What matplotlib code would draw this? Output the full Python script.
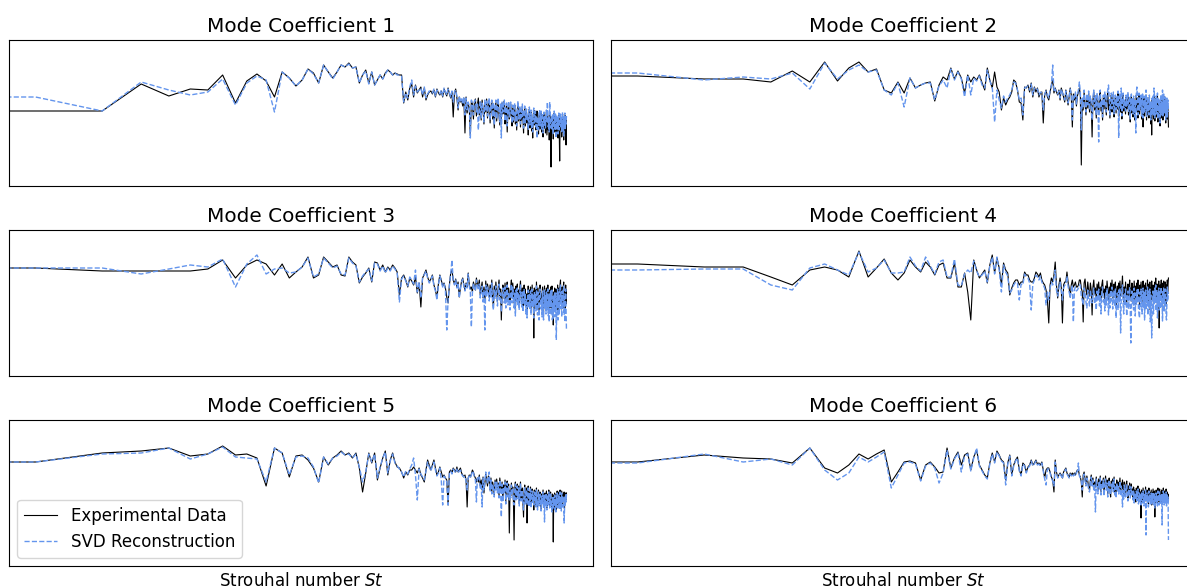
import numpy as np
import matplotlib
matplotlib.use("Agg")
import matplotlib.pyplot as plt

plt.rcParams["font.size"] = 12

# Frequency bins (DC + 250 bins), converted to Strouhal number
n_bins = 251
d_st = 0.004
strouhal = np.arange(n_bins) * d_st

titles = [f"Mode Coefficient {i}" for i in range(1, 7)]
xlabel = "Strouhal number $St$"
legend_labels = ["Experimental Data", "SVD Reconstruction"]

# Spectral amplitude of each mode coefficient [dB]
exp_1 = [
    -71, -71, -71, -44, -56, -49, -50, -35, -63, -41,
    -34, -41, -57, -32, -38, -46, -40, -29, -33, -43,
    -25, -32, -38, -32, -25, -27, -23, -28, -27, -43,
    -35, -30, -43, -32, -45, -40, -35, -39, -33, -30,
    -32, -35, -33, -34, -35, -35, -63, -52, -60, -48,
    -44, -57, -45, -53, -50, -47, -57, -48, -60, -55,
    -52, -51, -54, -50, -57, -49, -53, -55, -51, -57,
    -49, -53, -56, -48, -54, -58, -52, -77, -53, -49,
    -58, -70, -57, -62, -60, -66, -58, -93, -57, -73,
    -64, -68, -96, -61, -64, -79, -62, -59, -76, -65,
    -58, -75, -62, -80, -60, -70, -84, -63, -72, -59,
    -78, -66, -60, -83, -68, -61, -79, -64, -88, -70,
    -62, -81, -67, -60, -76, -85, -66, -80, -63, -74,
    -69, -61, -84, -72, -65, -92, -70, -63, -79, -73,
    -64, -77, -86, -67, -82, -71, -65, -84, -74, -90,
    -70, -63, -81, -75, -68, -87, -72, -80, -66, -78,
    -93, -74, -68, -86, -79, -71, -83, -76, -95, -73,
    -69, -88, -77, -72, -91, -80, -98, -75, -70, -85,
    -82, -73, -90, -78, -71, -87, -80, -94, -76, -72,
    -89, -79, -73, -92, -81, -75, -97, -83, -74, -88,
    -78, -93, -80, -72, -95, -84, -75, -90, -79, -100,
    -83, -74, -91, -127, -78, -93, -76, -85, -99, -79,
    -73, -92, -82, -76, -96, -84, -77, -91, -80, -98,
    -85, -75, -93, -121, -81, -76, -90, -79, -97, -83,
    -74, -92, -80, -100, -78, -88, -75, -94, -83, -105, -78,
]
svd_1 = [
    -57, -57, -71, -42, -50, -55, -52, -39, -65, -43,
    -36, -40, -72, -32, -38, -46, -40, -29, -34, -43,
    -25, -32, -39, -32, -25, -27, -24, -28, -27, -43,
    -35, -31, -44, -32, -45, -40, -35, -39, -34, -30,
    -32, -35, -33, -35, -35, -36, -62, -53, -58, -47,
    -40, -55, -46, -52, -50, -48, -55, -47, -58, -54,
    -51, -52, -53, -49, -56, -50, -52, -54, -50, -56,
    -48, -52, -55, -49, -53, -57, -51, -62, -52, -50,
    -56, -68, -56, -61, -58, -64, -57, -75, -58, -70,
    -62, -66, -98, -60, -63, -75, -61, -60, -72, -64,
    -90, -72, -61, -78, -63, -68, -82, -60, -70, -61,
    -76, -64, -58, -80, -66, -60, -77, -62, -85, -68,
    -60, -79, -65, -58, -74, -82, -64, -98, -62, -72,
    -67, -60, -81, -70, -63, -86, -68, -61, -77, -71,
    -62, -75, -83, -65, -80, -69, -63, -81, -72, -86,
    -68, -61, -79, -73, -66, -84, -70, -77, -64, -76,
    -88, -72, -66, -83, -77, -69, -80, -74, -90, -71,
    -67, -85, -75, -70, -88, -78, -92, -73, -68, -83,
    -80, -71, -87, -76, -98, -84, -78, -90, -74, -70,
    -86, -77, -71, -89, -79, -73, -93, -81, -72, -85,
    -76, -88, -78, -70, -82, -62, -73, -87, -77, -92,
    -62, -72, -88, -84, -76, -90, -74, -83, -95, -77,
    -71, -89, -80, -74, -98, -82, -75, -88, -78, -94,
    -83, -73, -90, -86, -79, -74, -87, -77, -93, -81,
    -72, -89, -78, -96, -76, -85, -73, -90, -81, -84, -76,
]
exp_2 = [
    -36, -36, -39, -39, -42, -31, -42, -22, -41, -28,
    -22, -32, -29, -50, -53, -42, -53, -38, -48, -45,
    -43, -42, -61, -45, -37, -40, -28, -39, -31, -38,
    -53, -35, -42, -37, -40, -35, -43, -50, -28, -40,
    -48, -32, -47, -52, -70, -58, -65, -60, -57, -52,
    -40, -42, -50, -62, -63, -80, -47, -48, -45, -52,
    -43, -57, -47, -52, -48, -57, -53, -52, -83, -55,
    -50, -57, -60, -52, -45, -40, -53, -48, -52, -55,
    -50, -60, -48, -52, -57, -62, -50, -58, -65, -57,
    -48, -55, -87, -54, -60, -53, -66, -56, -52, -48,
    -55, -125, -60, -70, -52, -64, -75, -56, -68, -53,
    -72, -58, -66, -97, -60, -52, -70, -57, -78, -55,
    -66, -74, -56, -52, -71, -62, -80, -57, -69, -54,
    -64, -75, -58, -52, -70, -60, -78, -63, -55, -72,
    -62, -54, -77, -66, -57, -73, -59, -69, -53, -76,
    -64, -56, -72, -60, -79, -65, -55, -71, -61, -68,
    -74, -57, -69, -63, -54, -75, -66, -58, -82, -64,
    -56, -73, -61, -77, -58, -68, -80, -62, -71, -55,
    -70, -58, -78, -64, -55, -74, -60, -69, -57, -79,
    -65, -56, -87, -68, -58, -76, -62, -71, -55, -80,
    -66, -59, -75, -62, -78, -57, -70, -64, -84, -63,
    -95, -60, -74, -58, -79, -67, -56, -81, -63, -72,
    -58, -77, -65, -55, -82, -68, -60, -75, -63, -86,
    -67, -57, -78, -64, -73, -58, -80, -66, -56, -76,
    -63, -74, -59, -83, -65, -77, -60, -79, -68, -72, -87,
]
svd_2 = [
    -33, -33, -40, -37, -39, -33, -49, -23, -39, -30,
    -25, -32, -30, -50, -55, -43, -67, -38, -48, -45,
    -43, -43, -60, -46, -40, -48, -29, -40, -32, -39,
    -57, -35, -55, -38, -41, -36, -45, -48, -30, -41,
    -47, -82, -50, -60, -68, -56, -62, -58, -55, -50,
    -42, -43, -50, -60, -58, -75, -48, -47, -46, -50,
    -44, -55, -48, -50, -49, -55, -52, -53, -70, -54,
    -51, -55, -58, -50, -46, -25, -52, -49, -53, -54,
    -51, -58, -49, -53, -56, -60, -51, -57, -63, -56,
    -49, -54, -80, -55, -58, -52, -64, -55, -50, -42,
    -52, -90, -58, -68, -50, -62, -72, -54, -65, -51,
    -70, -56, -63, -80, -58, -50, -67, -55, -75, -53,
    -63, -102, -54, -50, -68, -60, -77, -55, -66, -52,
    -61, -72, -56, -50, -45, -58, -75, -61, -53, -69,
    -60, -52, -74, -64, -55, -70, -57, -66, -51, -98,
    -62, -54, -69, -48, -76, -63, -53, -68, -59, -65,
    -71, -55, -66, -61, -52, -72, -64, -56, -79, -62,
    -54, -70, -59, -74, -56, -66, -77, -60, -93, -53,
    -47, -56, -75, -62, -53, -71, -58, -67, -55, -76,
    -63, -54, -78, -66, -56, -73, -60, -69, -50, -77,
    -64, -57, -72, -60, -75, -55, -68, -62, -80, -61,
    -76, -58, -71, -56, -76, -48, -54, -78, -61, -70,
    -56, -74, -63, -53, -79, -66, -58, -72, -61, -83,
    -65, -55, -75, -62, -70, -50, -77, -64, -54, -73,
    -61, -71, -57, -80, -63, -74, -58, -77, -66, -60, -72,
]
exp_3 = [
    -38, -38, -41, -41, -41, -41, -39, -30, -48, -35,
    -30, -34, -45, -34, -48, -42, -37, -27, -48, -45,
    -27, -32, -37, -35, -45, -46, -27, -32, -35, -53,
    -47, -43, -38, -52, -32, -33, -40, -35, -42, -37,
    -40, -35, -38, -42, -65, -48, -45, -50, -57, -48,
    -51, -55, -47, -63, -53, -77, -48, -44, -40, -47,
    -52, -49, -45, -55, -60, -68, -54, -45, -50, -56,
    -53, -58, -67, -73, -55, -43, -40, -50, -54, -49,
    -57, -52, -67, -58, -51, -48, -55, -60, -53, -57,
    -43, -55, -59, -57, -62, -52, -56, -60, -48, -54,
    -56, -50, -65, -58, -52, -68, -57, -72, -51, -62,
    -54, -60, -67, -55, -63, -50, -70, -76, -56, -65,
    -52, -62, -71, -57, -50, -66, -59, -90, -64, -55,
    -58, -69, -53, -72, -61, -52, -70, -58, -65, -75,
    -57, -50, -68, -53, -63, -73, -59, -80, -56, -66,
    -54, -71, -60, -74, -57, -51, -67, -72, -58, -76,
    -62, -55, -70, -59, -77, -64, -82, -66, -56, -72,
    -60, -74, -57, -78, -66, -55, -73, -61, -108, -58,
    -68, -60, -75, -52, -65, -79, -58, -70, -84, -61,
    -55, -59, -73, -64, -80, -57, -69, -82, -63, -56,
    -72, -61, -77, -58, -74, -66, -55, -79, -63, -83,
    -60, -71, -57, -78, -65, -56, -84, -68, -95, -62,
    -74, -58, -80, -67, -59, -76, -64, -71, -55, -82,
    -66, -58, -77, -63, -54, -50, -72, -61, -79, -57,
    -73, -64, -56, -52, -78, -62, -83, -67, -55, -74, -60,
]
svd_3 = [
    -38, -38, -38, -44, -39, -35, -37, -29, -57, -34,
    -25, -44, -39, -38, -43, -42, -37, -28, -47, -44,
    -28, -33, -38, -36, -44, -45, -28, -33, -36, -52,
    -46, -42, -39, -51, -33, -34, -41, -36, -43, -38,
    -41, -36, -39, -43, -72, -49, -46, -51, -56, -47,
    -50, -54, -40, -62, -52, -68, -47, -45, -41, -48,
    -53, -50, -46, -56, -61, -70, -55, -46, -51, -57,
    -54, -60, -100, -70, -56, -44, -30, -51, -55, -50,
    -58, -53, -68, -59, -52, -49, -56, -61, -54, -58,
    -44, -56, -62, -97, -63, -53, -58, -61, -50, -56,
    -60, -54, -68, -62, -56, -72, -60, -100, -55, -66,
    -57, -63, -71, -58, -67, -53, -74, -80, -60, -69,
    -56, -66, -76, -61, -54, -70, -63, -82, -68, -58,
    -62, -73, -57, -78, -65, -55, -75, -62, -70, -80,
    -61, -54, -73, -57, -68, -78, -63, -86, -60, -71,
    -58, -76, -64, -80, -61, -55, -72, -77, -62, -82,
    -67, -59, -75, -63, -84, -68, -88, -71, -60, -78,
    -64, -80, -61, -85, -71, -59, -78, -66, -88, -62,
    -73, -64, -81, -56, -70, -85, -62, -76, -90, -66,
    -59, -63, -79, -69, -87, -61, -74, -90, -68, -60,
    -78, -66, -84, -62, -80, -71, -59, -86, -68, -92,
    -64, -77, -61, -85, -70, -60, -90, -73, -88, -66,
    -80, -62, -87, -72, -63, -110, -69, -77, -59, -90,
    -71, -62, -84, -68, -58, -55, -79, -66, -87, -61,
    -79, -69, -60, -56, -85, -67, -92, -72, -59, -80, -100,
]
exp_4 = [
    -34, -34, -37, -37, -47, -55, -40, -37, -40, -47,
    -21, -47, -38, -29, -43, -50, -43, -30, -37, -42,
    -32, -37, -45, -35, -33, -48, -48, -33, -57, -57,
    -43, -62, -90, -30, -40, -48, -44, -40, -53, -35,
    -25, -43, -28, -38, -55, -33, -40, -43, -65, -58,
    -53, -50, -50, -55, -52, -52, -42, -45, -45, -50,
    -52, -52, -48, -42, -44, -47, -43, -50, -53, -55,
    -60, -70, -93, -55, -48, -52, -45, -32, -55, -68,
    -55, -48, -57, -93, -55, -52, -52, -42, -52, -58,
    -67, -55, -50, -57, -55, -52, -57, -57, -55, -50,
    -50, -58, -62, -92, -53, -49, -60, -65, -52, -61,
    -66, -53, -60, -85, -57, -50, -64, -58, -69, -54,
    -62, -52, -66, -57, -70, -55, -50, -63, -59, -72,
    -56, -65, -51, -60, -71, -57, -67, -53, -62, -50,
    -68, -58, -54, -66, -52, -75, -61, -56, -69, -53,
    -64, -51, -67, -58, -55, -46, -63, -72, -57, -66,
    -52, -63, -73, -58, -54, -68, -60, -50, -67, -58,
    -71, -53, -64, -57, -69, -51, -62, -74, -56, -66,
    -53, -64, -50, -70, -58, -76, -55, -67, -52, -62,
    -72, -57, -51, -66, -55, -78, -61, -53, -69, -58,
    -65, -50, -73, -60, -54, -67, -52, -80, -58, -63,
    -51, -70, -61, -55, -74, -57, -66, -52, -64, -48,
    -72, -59, -54, -77, -56, -66, -51, -98, -62, -55,
    -70, -57, -50, -67, -60, -79, -53, -64, -51, -72,
    -58, -68, -52, -61, -76, -55, -65, -50, -63, -54, -48,
]
svd_4 = [
    -40, -40, -39, -39, -55, -60, -38, -34, -40, -45,
    -22, -42, -38, -30, -43, -43, -42, -27, -36, -41,
    -27, -36, -44, -32, -30, -47, -47, -29, -55, -56,
    -44, -40, -43, -31, -41, -47, -45, -41, -52, -36,
    -27, -44, -27, -40, -62, -35, -42, -46, -63, -60,
    -55, -52, -53, -70, -54, -55, -44, -47, -48, -53,
    -80, -54, -50, -45, -47, -50, -46, -52, -55, -58,
    -75, -62, -70, -58, -52, -55, -48, -40, -60, -66,
    -58, -52, -60, -70, -58, -55, -55, -46, -56, -62,
    -68, -60, -55, -92, -60, -57, -61, -60, -58, -55,
    -55, -66, -70, -75, -58, -62, -72, -78, -60, -70,
    -76, -60, -68, -73, -64, -58, -74, -66, -80, -61,
    -70, -59, -76, -65, -84, -62, -57, -72, -68, -81,
    -63, -75, -58, -69, -85, -64, -78, -60, -71, -57,
    -79, -66, -61, -76, -59, -88, -69, -63, -80, -60,
    -72, -58, -103, -67, -62, -55, -74, -84, -64, -76,
    -59, -71, -86, -65, -61, -79, -68, -57, -77, -113,
    -82, -61, -73, -64, -80, -58, -70, -86, -63, -75,
    -60, -73, -58, -79, -83, -88, -62, -76, -59, -70,
    -84, -65, -58, -77, -62, -90, -69, -60, -80, -66,
    -74, -57, -85, -68, -61, -78, -59, -92, -65, -72,
    -108, -79, -69, -61, -84, -64, -75, -58, -72, -55,
    -81, -66, -60, -88, -63, -76, -58, -80, -70, -62,
    -79, -65, -57, -76, -68, -91, -60, -73, -58, -82,
    -65, -77, -59, -70, -87, -90, -74, -57, -71, -62, -64,
]
exp_5 = [
    -42, -42, -33, -31, -28, -36, -34, -26, -35, -34,
    -38, -66, -28, -33, -57, -36, -35, -40, -48, -62,
    -37, -45, -38, -35, -31, -35, -33, -38, -33, -48,
    -72, -53, -33, -43, -33, -60, -48, -38, -31, -55,
    -40, -33, -42, -47, -48, -52, -58, -52, -55, -50,
    -50, -47, -50, -53, -48, -55, -58, -62, -50, -40,
    -45, -50, -45, -40, -48, -55, -52, -47, -52, -57,
    -55, -58, -60, -85, -52, -50, -53, -48, -50, -52,
    -47, -52, -50, -48, -53, -55, -57, -55, -60, -87,
    -58, -55, -57, -54, -50, -52, -56, -58, -62, -58,
    -62, -55, -66, -60, -70, -57, -73, -64, -54, -60,
    -66, -56, -61, -70, -58, -72, -62, -67, -75, -60,
    -68, -59, -70, -63, -76, -58, -66, -73, -62, -80,
    -65, -72, -60, -82, -66, -61, -75, -64, -113, -70,
    -76, -63, -72, -67, -80, -120, -69, -62, -78, -68,
    -64, -77, -66, -84, -70, -62, -79, -72, -68, -83,
    -97, -71, -65, -82, -73, -68, -103, -76, -66, -85,
    -72, -79, -67, -86, -74, -69, -82, -73, -90, -70,
    -78, -71, -85, -68, -80, -88, -74, -70, -84, -76,
    -72, -80, -89, -74, -83, -77, -70, -86, -75, -81,
    -73, -85, -78, -71, -88, -79, -74, -83, -70, -77,
    -86, -76, -72, -84, -80, -90, -74, -79, -122, -75,
    -83, -73, -88, -78, -90, -74, -82, -71, -86, -77,
    -80, -72, -87, -77, -70, -84, -76, -89, -71, -79,
    -85, -74, -81, -77, -72, -88, -75, -83, -73, -80, -73,
]
svd_5 = [
    -42, -42, -34, -33, -28, -39, -34, -27, -37, -38,
    -39, -62, -28, -33, -55, -37, -36, -38, -47, -63,
    -37, -44, -38, -36, -32, -35, -34, -38, -34, -47,
    -62, -52, -34, -42, -34, -58, -47, -38, -32, -53,
    -41, -34, -43, -46, -49, -52, -57, -51, -54, -49,
    -45, -38, -55, -80, -49, -54, -57, -60, -51, -42,
    -47, -51, -46, -42, -50, -56, -53, -48, -60, -85,
    -56, -58, -62, -85, -53, -51, -54, -49, -51, -53,
    -49, -53, -51, -50, -54, -56, -57, -56, -61, -70,
    -58, -56, -58, -55, -51, -53, -57, -60, -82, -58,
    -60, -57, -68, -65, -87, -58, -70, -62, -52, -58,
    -64, -58, -52, -71, -60, -74, -64, -69, -77, -62,
    -70, -61, -73, -65, -78, -60, -68, -97, -64, -82,
    -67, -74, -62, -84, -68, -63, -77, -66, -80, -72,
    -78, -65, -74, -69, -82, -85, -71, -64, -80, -70,
    -66, -79, -68, -86, -72, -64, -81, -74, -70, -85,
    -90, -73, -67, -84, -75, -70, -85, -78, -68, -87,
    -74, -81, -69, -88, -76, -71, -84, -75, -85, -72,
    -80, -73, -87, -70, -82, -90, -76, -72, -86, -78,
    -74, -82, -91, -76, -85, -79, -72, -88, -77, -102,
    -75, -87, -80, -73, -90, -81, -76, -85, -72, -79,
    -88, -78, -74, -86, -82, -92, -76, -81, -88, -77,
    -85, -75, -90, -80, -92, -76, -84, -73, -88, -79,
    -82, -74, -89, -79, -72, -86, -78, -91, -73, -81,
    -87, -76, -83, -79, -103, -90, -77, -85, -75, -82, -74,
]
exp_6 = [
    -42, -42, -35, -38, -39, -43, -28, -48, -53, -45,
    -34, -39, -34, -30, -62, -52, -42, -41, -43, -60,
    -45, -42, -47, -53, -52, -28, -48, -38, -32, -45,
    -35, -33, -50, -37, -30, -45, -50, -55, -58, -43,
    -33, -42, -31, -35, -40, -42, -60, -43, -35, -55,
    -45, -40, -37, -50, -55, -43, -45, -52, -47, -45,
    -40, -45, -43, -40, -44, -43, -45, -42, -50, -58,
    -50, -48, -48, -52, -57, -60, -72, -40, -52, -57,
    -55, -53, -55, -58, -52, -50, -48, -53, -55, -57,
    -53, -55, -53, -55, -53, -55, -52, -50, -50, -55,
    -57, -62, -77, -55, -52, -59, -64, -56, -61, -67,
    -70, -60, -55, -63, -58, -68, -62, -67, -57, -64,
    -71, -59, -66, -56, -72, -61, -65, -58, -73, -62,
    -56, -67, -60, -74, -63, -58, -70, -77, -61, -66,
    -59, -69, -57, -72, -64, -75, -60, -68, -62, -71,
    -65, -58, -73, -63, -69, -60, -67, -76, -62, -70,
    -74, -64, -61, -72, -78, -66, -70, -63, -75, -68,
    -64, -73, -69, -77, -67, -80, -70, -75, -82, -68,
    -78, -71, -66, -81, -74, -69, -79, -72, -98, -70,
    -76, -80, -68, -75, -83, -71, -78, -67, -81, -73,
    -70, -79, -74, -84, -68, -77, -72, -81, -75, -70,
    -85, -73, -79, -69, -76, -82, -71, -97, -74, -78,
    -70, -80, -75, -83, -68, -77, -73, -82, -69, -76,
    -81, -72, -78, -70, -84, -74, -79, -68, -76, -82,
    -71, -78, -73, -80, -69, -83, -75, -72, -79, -74, -80,
]
svd_6 = [
    -43, -43, -34, -42, -39, -45, -28, -50, -60, -53,
    -37, -42, -37, -32, -68, -55, -43, -42, -44, -61,
    -46, -43, -48, -63, -53, -30, -49, -39, -33, -52,
    -36, -34, -51, -38, -28, -46, -51, -56, -59, -44,
    -34, -43, -32, -36, -41, -43, -65, -44, -36, -56,
    -46, -41, -38, -51, -56, -44, -46, -53, -48, -46,
    -41, -46, -44, -41, -45, -44, -46, -43, -51, -59,
    -65, -49, -49, -53, -58, -61, -66, -42, -53, -58,
    -56, -54, -56, -59, -53, -51, -49, -54, -56, -58,
    -54, -56, -54, -56, -54, -56, -53, -51, -43, -56,
    -58, -61, -70, -58, -54, -61, -66, -58, -63, -70,
    -72, -63, -57, -66, -60, -71, -64, -92, -59, -67,
    -74, -62, -69, -58, -75, -64, -68, -60, -76, -65,
    -59, -70, -63, -77, -66, -60, -73, -75, -64, -69,
    -62, -72, -59, -75, -67, -78, -63, -71, -65, -74,
    -68, -61, -76, -66, -72, -87, -70, -79, -65, -73,
    -77, -67, -64, -75, -81, -69, -73, -66, -78, -71,
    -67, -76, -72, -80, -70, -83, -73, -78, -80, -71,
    -81, -74, -69, -84, -77, -72, -82, -75, -85, -73,
    -79, -83, -71, -78, -86, -74, -81, -70, -115, -76,
    -73, -82, -77, -87, -71, -80, -75, -84, -78, -73,
    -84, -76, -82, -72, -79, -85, -74, -88, -77, -81,
    -73, -83, -78, -86, -71, -80, -76, -85, -72, -79,
    -84, -75, -81, -73, -105, -77, -82, -71, -79, -85,
    -74, -81, -76, -83, -72, -86, -78, -75, -82, -77, -120,
]

experimental = [exp_1, exp_2, exp_3, exp_4, exp_5, exp_6]
reconstruction = [svd_1, svd_2, svd_3, svd_4, svd_5, svd_6]

# Figure and panel geometry (pixels)
fig_w, fig_h = 1187, 588
dpi = 100
fig = plt.figure(figsize=(fig_w / dpi, fig_h / dpi), dpi=dpi)
col_left = [9, 611]
row_top = [40, 230, 420]
ax_w, ax_h = 584, 146

axes = []
for i in range(6):
    r, c = divmod(i, 2)
    rect = [col_left[c] / fig_w, 1 - (row_top[r] + ax_h) / fig_h,
            ax_w / fig_w, ax_h / fig_h]
    ax = fig.add_axes(rect)
    ax.plot(strouhal, experimental[i], color="black", lw=0.8,
            label=legend_labels[0])
    ax.plot(strouhal, reconstruction[i], color="cornflowerblue", lw=1.0,
            ls="--", label=legend_labels[1])
    ax.set_xscale("log")
    ax.set_ylim(-146, 0)
    ax.set_title(titles[i], fontsize=14.4)
    ax.tick_params(axis="both", which="both", bottom=False, left=False,
                   labelbottom=False, labelleft=False)
    if r == 2:
        ax.set_xlabel(xlabel, fontsize=12)
    axes.append(ax)

axes[4].legend(loc="lower left", fontsize=12)

fig.savefig("out.png", dpi=dpi)
